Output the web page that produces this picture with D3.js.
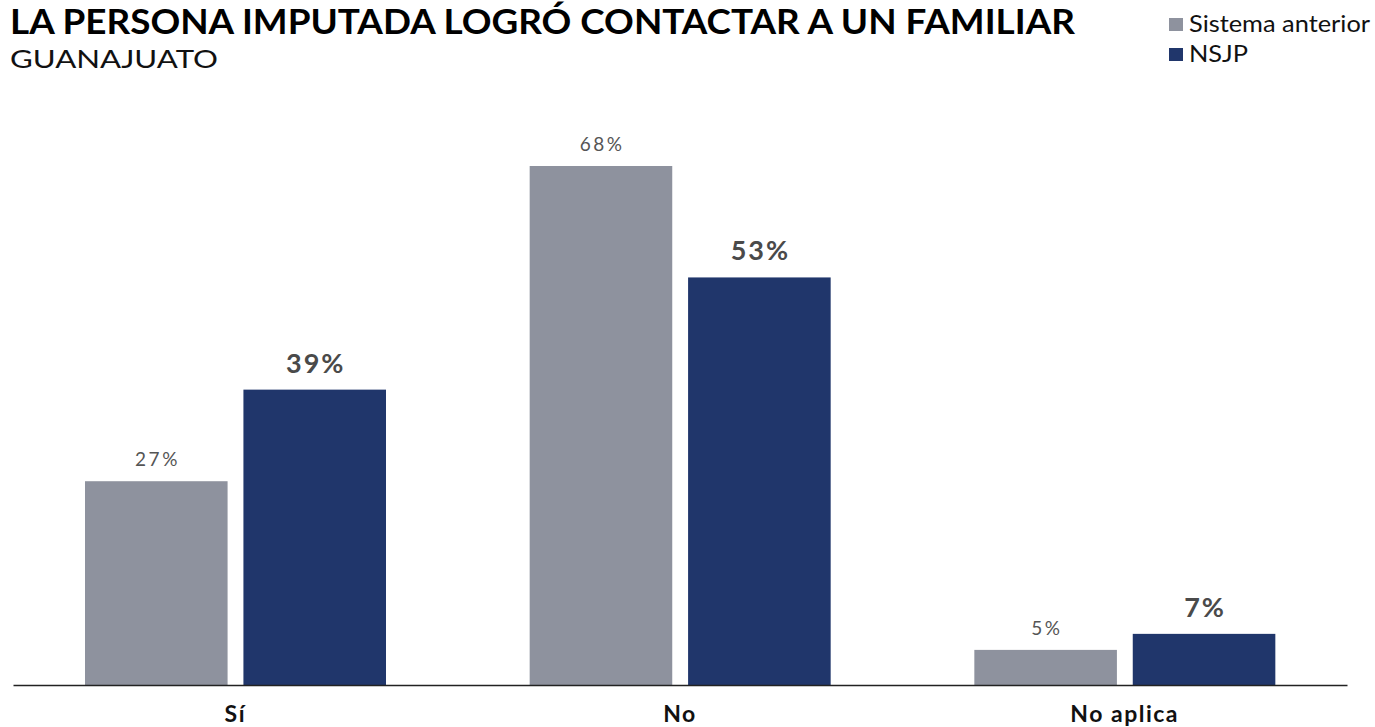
<!DOCTYPE html>
<html><head><meta charset="utf-8">
<script src="https://cdn.jsdelivr.net/npm/d3@7"></script>
<style>body{margin:0;background:#fff;} text{font-family:Lato, sans-serif;}</style>
</head><body>
<svg id="c" width="1375" height="727"></svg>
<script>
const categories = ["Sí", "No", "No aplica"];
const seriesNames = ["Sistema anterior", "NSJP"];
const sistemaAnterior = [26.7, 68.0, 4.6];
const nsjp = [38.7, 53.4, 6.7];
const colors = ["#8e929e", "#20366b"];

const svg = d3.select("#c");
const base = 685;
const x0 = d3.scaleBand().domain(categories).range([13, 1347]).padding(0);
const x1 = d3.scaleBand().domain(seriesNames).range([72, 373]).paddingInner(0.1);
const y = d3.scaleLinear().domain([0, 68]).range([base, 166]);

const data = categories.map((c, i) => ({cat: c, vals: [
  {s: seriesNames[0], v: sistemaAnterior[i]},
  {s: seriesNames[1], v: nsjp[i]}]}));

const g = svg.selectAll("g.cat").data(data).enter().append("g")
  .attr("transform", d => `translate(${x0(d.cat)},0)`);
g.selectAll("rect").data(d => d.vals).enter().append("rect")
  .attr("x", d => x1(d.s)).attr("width", x1.bandwidth())
  .attr("y", d => y(d.v)).attr("height", d => base - y(d.v))
  .attr("fill", (d, i) => colors[i]);
g.selectAll("text.val").data(d => d.vals).enter().append("text")
  .attr("class", "val")
  .attr("x", (d, i) => x1(d.s) + x1.bandwidth() / 2 + (i === 0 ? 1.2 : 1))
  .attr("y", (d, i) => y(d.v) - (i === 0 ? 15 : 17))
  .attr("text-anchor", "middle")
  .attr("fill", (d, i) => i === 0 ? "#555" : "#4a4a4a")
  .attr("font-size", (d, i) => i === 0 ? 19 : 27)
  .attr("font-weight", (d, i) => i === 0 ? 400 : 700)
  .attr("letter-spacing", (d, i) => i === 0 ? 2.5 : 2)
  .text(d => Math.round(d.v) + "%");

// axis
const ax = svg.append("g").attr("transform", `translate(0,${base})`)
  .call(d3.axisBottom(x0).tickSize(0).tickPadding(21));
ax.select(".domain").attr("stroke", "#222").attr("stroke-width", 1.5);
ax.selectAll("text").attr("font-size", 23).attr("font-weight", 700)
  .attr("letter-spacing", 1.5)
  .attr("fill", "#111").attr("font-family", "Lato, sans-serif");

// title
svg.append("text").attr("x", 10).attr("y", 34).attr("font-size", 34)
  .attr("font-weight", 700).attr("fill", "#000")
  .attr("textLength", 1065).attr("lengthAdjust", "spacingAndGlyphs")
  .text("LA PERSONA IMPUTADA LOGRÓ CONTACTAR A UN FAMILIAR");
svg.append("text").attr("x", 10).attr("y", 68).attr("font-size", 25)
  .attr("fill", "#111").attr("textLength", 208).attr("lengthAdjust", "spacingAndGlyphs")
  .text("GUANAJUATO");

// legend
const legW = [181, 59];
const lg = svg.selectAll("g.leg").data(seriesNames).enter().append("g")
  .attr("transform", (d, i) => `translate(1169,${18 + i * 30})`);
lg.append("rect").attr("width", 14).attr("height", 13).attr("fill", (d, i) => colors[i]);
lg.append("text").attr("x", 20).attr("y", 14).attr("font-size", 23)
  .attr("fill", "#111").attr("textLength", (d, i) => legW[i])
  .attr("lengthAdjust", "spacingAndGlyphs").text(d => d);
</script>
</body></html>
